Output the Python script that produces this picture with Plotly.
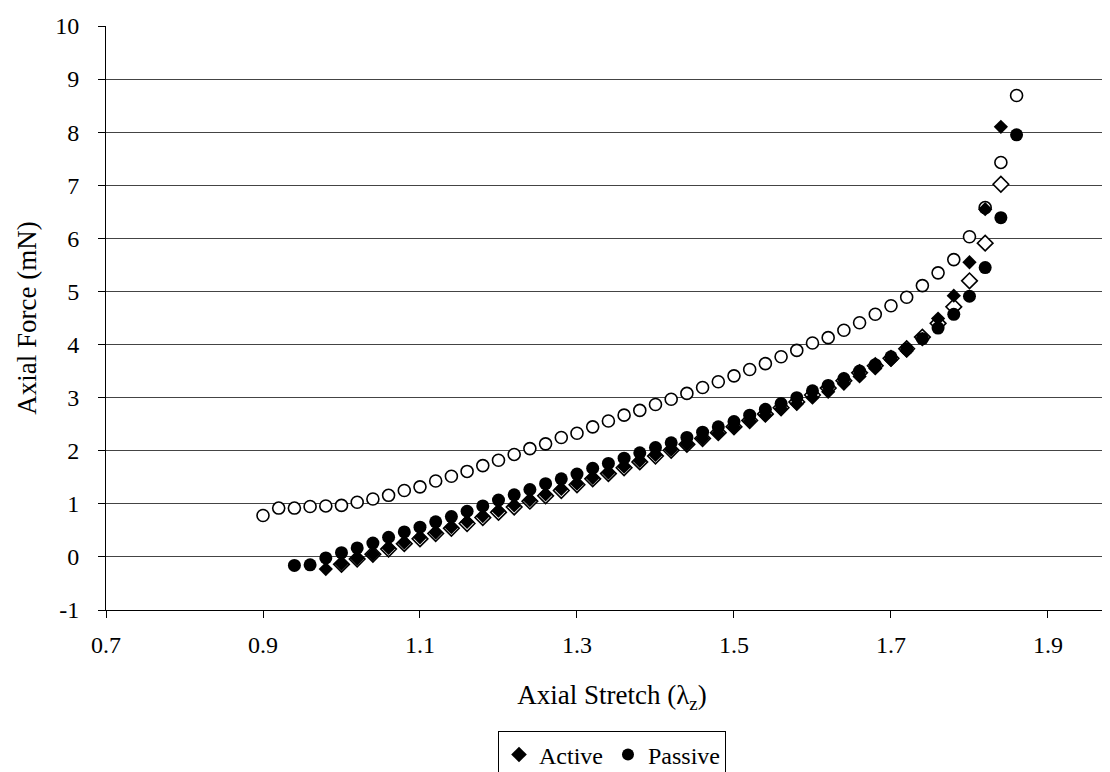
import plotly.graph_objects as go

# ---- data ----
active_x = [0.98, 1.00, 1.02, 1.04, 1.06, 1.08, 1.10, 1.12, 1.14, 1.16, 1.18, 1.20, 1.22, 1.24,
            1.26, 1.28, 1.30, 1.32, 1.34, 1.36, 1.38, 1.40, 1.42, 1.44, 1.46, 1.48, 1.50, 1.52,
            1.54, 1.56, 1.58, 1.60, 1.62, 1.64, 1.66, 1.68, 1.70, 1.72, 1.74, 1.76, 1.78, 1.80,
            1.82, 1.84]
active_filled = [-0.23, -0.13, -0.03, 0.05, 0.17, 0.27, 0.37, 0.46, 0.56, 0.66, 0.77, 0.87, 0.97, 1.07,
                 1.18, 1.28, 1.38, 1.49, 1.59, 1.70, 1.81, 1.92, 2.02, 2.12, 2.23, 2.33, 2.44, 2.56,
                 2.67, 2.79, 2.88, 3.00, 3.11, 3.26, 3.40, 3.55, 3.71, 3.88, 4.10, 4.49, 4.92, 5.55,
                 6.55, 8.10]

active_open_x = active_x[1:]
active_open = [-0.14, -0.04, 0.05, 0.15, 0.25, 0.34, 0.44, 0.54, 0.63, 0.74, 0.84, 0.94, 1.05,
               1.15, 1.25, 1.36, 1.47, 1.57, 1.68, 1.79, 1.90, 2.01, 2.12, 2.23, 2.34, 2.45, 2.57,
               2.69, 2.81, 2.92, 3.05, 3.18, 3.32, 3.47, 3.60, 3.74, 3.92, 4.14, 4.40, 4.71, 5.20, 5.91,
               7.02, 8.54]

passive_x = [0.94, 0.96, 0.98, 1.00, 1.02, 1.04, 1.06, 1.08, 1.10, 1.12, 1.14, 1.16, 1.18, 1.20,
             1.22, 1.24, 1.26, 1.28, 1.30, 1.32, 1.34, 1.36, 1.38, 1.40, 1.42, 1.44, 1.46, 1.48,
             1.50, 1.52, 1.54, 1.56, 1.58, 1.60, 1.62, 1.64, 1.66, 1.68, 1.70, 1.72, 1.74, 1.76,
             1.78, 1.80, 1.82, 1.84, 1.86]
passive_filled = [-0.16, -0.15, -0.02, 0.08, 0.17, 0.26, 0.37, 0.47, 0.56, 0.66, 0.76, 0.86, 0.96, 1.07,
                  1.17, 1.27, 1.38, 1.47, 1.56, 1.67, 1.76, 1.86, 1.96, 2.06, 2.15, 2.25, 2.35, 2.45,
                  2.55, 2.67, 2.78, 2.89, 3.00, 3.13, 3.23, 3.36, 3.50, 3.62, 3.77, 3.92, 4.11, 4.31,
                  4.57, 4.91, 5.45, 6.39, 7.95]

passive_open_x = [0.90, 0.92] + passive_x
passive_open = [0.78, 0.92, 0.92, 0.95, 0.96, 0.97, 1.03, 1.09, 1.16, 1.25, 1.32, 1.43, 1.52, 1.61,
                1.72, 1.82, 1.93, 2.04, 2.13, 2.25, 2.33, 2.45, 2.56, 2.67, 2.76, 2.87, 2.97, 3.08,
                3.19, 3.30, 3.41, 3.53, 3.64, 3.77, 3.89, 4.03, 4.13, 4.27, 4.41, 4.57, 4.73, 4.89,
                5.11, 5.35, 5.60, 6.03, 6.58, 7.43, 8.69]

x_tickvals = [0.7, 0.9, 1.1, 1.3, 1.5, 1.7, 1.9]
x_ticktext = ["0.7", "0.9", "1.1", "1.3", "1.5", "1.7", "1.9"]
y_tickvals = [-1, 0, 1, 2, 3, 4, 5, 6, 7, 8, 9, 10]
y_ticktext = ["-1", "0", "1", "2", "3", "4", "5", "6", "7", "8", "9", "10"]

FONT = "Liberation Serif, Times New Roman, serif"

fig = go.Figure()
fig.add_trace(go.Scatter(x=passive_open_x, y=passive_open, mode="markers", showlegend=False,
                         marker=dict(symbol="circle", size=12, color="white",
                                     line=dict(color="black", width=1.6))))
fig.add_trace(go.Scatter(x=active_open_x, y=active_open, mode="markers", showlegend=False,
                         marker=dict(symbol="diamond", size=12, color="white",
                                     line=dict(color="black", width=1.6))))
fig.add_trace(go.Scatter(x=active_x, y=active_filled, mode="markers", name="Active",
                         marker=dict(symbol="diamond", size=11, color="black")))
fig.add_trace(go.Scatter(x=passive_x, y=passive_filled, mode="markers", name="Passive",
                         marker=dict(symbol="circle", size=13, color="black")))

fig.update_layout(
    width=1110, height=772,
    margin=dict(l=98, r=0, t=18, b=170, autoexpand=False),
    paper_bgcolor="white", plot_bgcolor="white",
    font=dict(family=FONT, size=24, color="black"),
    legend=dict(orientation="h", x=0.5, xanchor="center",
                yref="container", y=0.002, yanchor="bottom",
                bordercolor="black", borderwidth=1, bgcolor="white",
                font=dict(size=24), itemsizing="constant", itemwidth=30),
    xaxis=dict(range=[0.7, 1.9892], tickvals=x_tickvals, ticktext=x_ticktext,
               tickfont=dict(size=24),
               showgrid=False, zeroline=False, showline=True, linecolor="black", linewidth=1,
               ticks="outside", ticklen=7, tickcolor="black", ticklabelstandoff=6,
               title=dict(text="Axial Stretch (λ<sub>z</sub>)", standoff=28, font=dict(size=27))),
    yaxis=dict(range=[-1, 10], tickvals=y_tickvals, ticktext=y_ticktext,
               tickfont=dict(size=24),
               showgrid=True, gridcolor="#444", gridwidth=1, zeroline=False,
               showline=True, linecolor="black", linewidth=1,
               ticks="outside", ticklen=7, tickcolor="black", ticklabelstandoff=14,
               title=dict(text="Axial Force (mN)", standoff=10, font=dict(size=27))),
)

fig.write_html("out.html")
